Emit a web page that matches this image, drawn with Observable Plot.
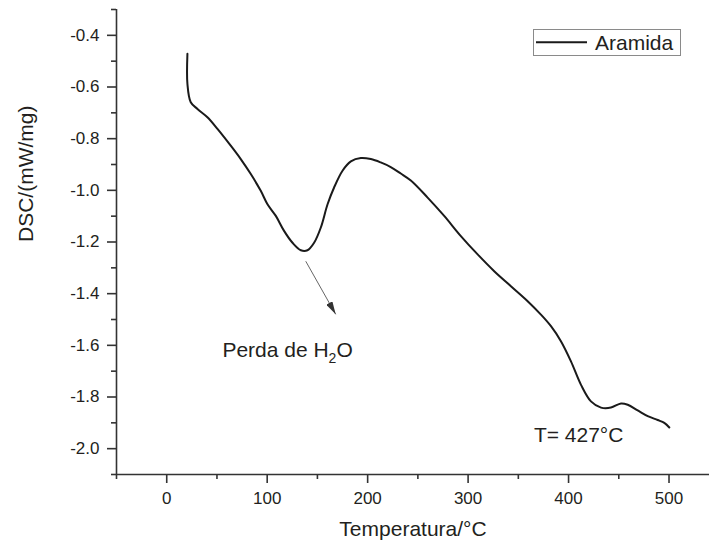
<!DOCTYPE html>
<html><head><meta charset="utf-8">
<script src="https://cdn.jsdelivr.net/npm/d3@7"></script>
<script src="https://cdn.jsdelivr.net/npm/@observablehq/plot@0.6"></script>
<style>
html,body{margin:0;padding:0;background:#fff;}
#wrap{position:relative;width:709px;height:548px;font-family:"Liberation Sans",Arial,sans-serif;}
#legend{position:absolute;left:533px;top:29px;}
</style></head>
<body><div id="wrap"></div>
<script>
const temps = [20.6, 20.6, 23.9, 30.6, 40.5, 50.5, 63.7, 73.7, 83.7, 93.6, 100.3, 108.6, 116.8, 125.2, 133.5, 140.1, 146.7, 153.4, 160.1, 166.6, 175.0, 183.3, 193.2, 203.2, 213.0, 223.0, 233.0, 243.0, 259.7, 276.2, 292.8, 309.5, 326.0, 342.6, 359.3, 372.5, 382.5, 392.4, 402.4, 412.4, 422.3, 432.3, 442.2, 452.2, 458.9, 468.8, 478.8, 488.7, 495.3, 500.3];
const dsc = [-0.471, -0.588, -0.659, -0.685, -0.717, -0.762, -0.827, -0.879, -0.937, -1.002, -1.054, -1.099, -1.157, -1.203, -1.232, -1.232, -1.203, -1.144, -1.054, -0.989, -0.924, -0.888, -0.875, -0.879, -0.892, -0.910, -0.935, -0.962, -1.028, -1.099, -1.177, -1.248, -1.313, -1.371, -1.429, -1.481, -1.526, -1.584, -1.662, -1.753, -1.817, -1.841, -1.841, -1.825, -1.830, -1.852, -1.874, -1.889, -1.900, -1.918];
const seriesName = "Aramida";
const xDomain = [-50, 540.3];
const yDomain = [-2.1, -0.3];
const xMajor = [0, 100, 200, 300, 400, 500];
const xMinor = [-50, 50, 150, 250, 350, 450];
const yMajor = [-2.0, -1.8, -1.6, -1.4, -1.2, -1.0, -0.8, -0.6, -0.4];
const yMinor = [-2.1, -1.9, -1.7, -1.5, -1.3, -1.1, -0.9, -0.7, -0.5, -0.3];
const xTitle = "Temperatura/°C";
const yTitle = "DSC/(mW/mg)";
const notes = [
  {x: 55.4, y: -1.645, label: "Perda de H2O"},
  {x: 365.5, y: -1.974, label: "T= 427°C"}
];
const arrows = [{x1: 138.4, y1: -1.2745, x2: 168.2, y2: -1.48}];

const rows = temps.map((t, i) => ({t, v: dsc[i]}));
const ink = "#231f20";
const font = "Liberation Sans, Arial, sans-serif";

const plot = Plot.plot({
  width: 709, height: 548,
  marginLeft: 116, marginRight: 0, marginTop: 9, marginBottom: 74,
  style: {fontFamily: font, color: ink, background: "white", overflow: "visible"},
  x: {domain: xDomain},
  y: {domain: yDomain},
  marks: [
    Plot.ruleX([xDomain[0]], {stroke: "#333", strokeWidth: 1.6}),
    Plot.ruleY([yDomain[0]], {stroke: "#333", strokeWidth: 1.6}),
    Plot.axisX({ticks: xMajor, tickSize: 9, tickPadding: 8, fontSize: 17, label: null, tickFormat: d => String(d), stroke: "#333", strokeWidth: 1.6}),
    Plot.axisX({ticks: xMinor, tickSize: 5, tickFormat: () => "", label: null, stroke: "#333", strokeWidth: 1.6}),
    Plot.axisY({ticks: yMajor, tickSize: 9, tickPadding: 8, fontSize: 17, label: null, tickFormat: d => d.toFixed(1), stroke: "#333", strokeWidth: 1.6}),
    Plot.axisY({ticks: yMinor, tickSize: 5, tickFormat: () => "", label: null, stroke: "#333", strokeWidth: 1.6}),
    Plot.line(rows, {x: "t", y: "v", stroke: "#1a1a1a", strokeWidth: 2, curve: "catmull-rom"}),
    Plot.link(arrows, {x1: "x1", y1: "y1", x2: "x2", y2: "y2", stroke: "#666", strokeWidth: 1}),
    Plot.text(notes, {x: "x", y: "y", text: "label", textAnchor: "start", lineAnchor: "bottom", fontSize: 21, fill: ink}),
    Plot.text([xTitle], {text: d => d, frameAnchor: "bottom", dy: 61, fontSize: 21, fill: ink}),
    Plot.text([yTitle], {text: d => d, frameAnchor: "left", dx: -90, rotate: -90, fontSize: 21, fill: ink})
  ]
});

const svg = d3.select(plot);
const defs = svg.insert("defs", ":first-child");
defs.append("marker").attr("id", "ah").attr("viewBox", "0 0 10 10").attr("refX", 10).attr("refY", 5)
  .attr("markerUnits", "userSpaceOnUse").attr("markerWidth", 13).attr("markerHeight", 7)
  .attr("preserveAspectRatio", "none").attr("orient", "auto")
  .append("path").attr("d", "M0,0 L10,5 L0,10 z").attr("fill", "#333");
svg.selectAll('g[aria-label="link"] path').attr("marker-end", "url(#ah)");

svg.selectAll("text").each(function() {
  if (this.textContent === "Perda de H2O") {
    const t = d3.select(this);
    t.text(null);
    t.append("tspan").text("Perda de H");
    t.append("tspan").attr("dy", 6).attr("font-size", 14).text("2");
    t.append("tspan").attr("dy", -6).text("O");
  }
});

const wrap = document.getElementById("wrap");
wrap.appendChild(plot);

const lg = d3.select(wrap).append("svg").attr("id", "legend").attr("width", 149).attr("height", 28);
lg.append("rect").attr("x", 0.5).attr("y", 0.5).attr("width", 147).attr("height", 26)
  .attr("fill", "white").attr("stroke", "#8a8a8a").attr("stroke-width", 1);
lg.append("line").attr("x1", 3).attr("x2", 54).attr("y1", 13.3).attr("y2", 13.3)
  .attr("stroke", "#1a1a1a").attr("stroke-width", 2);
lg.append("text").attr("x", 62).attr("y", 21).attr("font-family", font).attr("font-size", 21)
  .attr("fill", ink).text(seriesName);
</script>
</body></html>
